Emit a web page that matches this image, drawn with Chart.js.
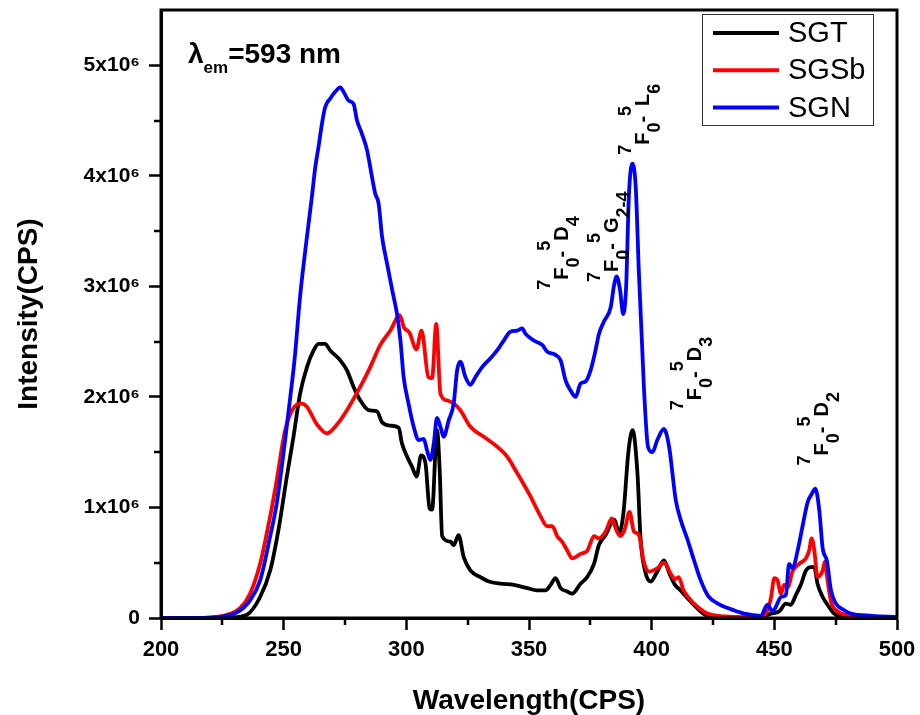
<!DOCTYPE html>
<html>
<head>
<meta charset="utf-8">
<script src="https://cdn.jsdelivr.net/npm/chart.js@4.4.1/dist/chart.umd.min.js"></script>
<style>
html,body{margin:0;padding:0;background:#ffffff;}
#wrap{width:920px;height:715px;position:relative;}
</style>
</head>
<body>
<div id="wrap"><canvas id="c" width="920" height="715"></canvas></div>
<script>
// ---------------- data (intensity in units of 10^6 CPS) ----------------
const UNIT = 1e6;
const seriesNames = ['SGT', 'SGSb', 'SGN'];
const seriesColors = ['#000000', '#ff0000', '#0000ff'];

const sgtWl = [200, 220, 228, 235, 240.4, 244.5, 247.9, 251.3, 254, 256.7,
  259.5, 262.2, 264.2, 266.9, 269, 273.1, 275.8, 278.5, 281.2, 284.6,
  288, 290.1, 293.5, 296.9, 298.2, 300.3, 302.3, 304.2, 306, 307.8,
  309.5, 310.5, 312.5, 313.6, 314.6, 318, 319.3, 321.3, 323.4, 326.1,
  330.2, 333.6, 338.4, 343.8, 349.3, 353.3, 356.7, 358.8, 360.8, 362.9,
  365.6, 367.6, 371, 373.7, 376.5, 378.5, 381.2, 384.8, 386.7, 388.5,
  390.5, 392.2, 394.2, 395.5, 397.6, 399.6, 402.3, 405, 407.3, 409.5,
  411.8, 414.6, 418, 421, 425, 435, 445, 448.6, 452, 454.7,
  456.7, 458.8, 460.8, 462.9, 465, 466.3, 467.6, 469.7, 471.7, 474.4,
  478, 490, 500];
const sgtVal = [0, 0, 0.005, 0.03, 0.19, 0.43, 0.80, 1.28, 1.64, 2.03,
  2.27, 2.42, 2.48, 2.48, 2.42, 2.33, 2.24, 2.09, 1.97, 1.88,
  1.87, 1.77, 1.74, 1.72, 1.58, 1.46, 1.37, 1.28, 1.47, 1.40,
  0.99, 0.98, 1.70, 1.34, 0.74, 0.69, 0.66, 0.75, 0.55, 0.43,
  0.37, 0.33, 0.31, 0.30, 0.27, 0.25, 0.25, 0.30, 0.36, 0.27,
  0.24, 0.22, 0.31, 0.37, 0.49, 0.66, 0.75, 0.89, 0.77, 0.95,
  1.50, 1.70, 1.31, 0.71, 0.40, 0.33, 0.42, 0.52, 0.40, 0.30,
  0.25, 0.18, 0.10, 0.04, 0.01, 0.005, 0.01, 0.04, 0.06, 0.13,
  0.12, 0.21, 0.30, 0.43, 0.46, 0.46, 0.31, 0.19, 0.12, 0.04,
  0.01, 0.005, 0];

const sgsbWl = [200, 215, 220, 225.4, 232.2, 236.3, 240.4, 244.5, 247.2, 250.6,
  254, 257.4, 259.5, 263.6, 267.6, 271.7, 275.8, 281.2, 285.3, 289.4,
  293.5, 297.3, 299, 301.3, 304.1, 306.2, 309, 310.5, 312.2, 313.9,
  316.5, 319.3, 322, 326.1, 331.6, 337, 341.1, 345.2, 350.6, 354.7,
  357.4, 359.5, 361.5, 363.5, 365.6, 367.6, 371, 373.8, 376.5, 378.5,
  381.2, 383.8, 385.5, 387.2, 389, 391, 392.8, 394.6, 396.9, 398.9,
  402.3, 405, 407.8, 409.5, 411, 413, 417.3, 422.7, 430, 440,
  445, 447.2, 448.6, 450, 451.3, 452.7, 454, 455.5, 457.4, 460.1,
  462.9, 464.2, 465.2, 466.3, 467.6, 469.7, 470.6, 471.7, 473.1, 475.8,
  482, 490, 500];
const sgsbVal = [0, 0, 0.005, 0.02, 0.09, 0.22, 0.49, 0.92, 1.25, 1.70,
  1.90, 1.94, 1.91, 1.75, 1.67, 1.75, 1.88, 2.09, 2.27, 2.47,
  2.60, 2.74, 2.63, 2.58, 2.43, 2.60, 2.18, 2.17, 2.66, 2.03,
  1.97, 1.94, 1.88, 1.73, 1.64, 1.55, 1.46, 1.31, 1.10, 0.92,
  0.83, 0.83, 0.74, 0.69, 0.61, 0.54, 0.58, 0.61, 0.74, 0.72,
  0.78, 0.90, 0.80, 0.74, 0.80, 0.96, 0.78, 0.76, 0.50, 0.42,
  0.45, 0.50, 0.40, 0.35, 0.37, 0.25, 0.13, 0.04, 0.015, 0.005,
  0.005, 0.07, 0.18, 0.36, 0.34, 0.22, 0.30, 0.28, 0.42, 0.49,
  0.54, 0.61, 0.72, 0.61, 0.37, 0.43, 0.51, 0.34, 0.15, 0.06,
  0.02, 0.01, 0];

const sgnWl = [200, 218, 224, 230.9, 236.3, 240.4, 244.5, 247.2, 250.6, 252.7,
  254.5, 256.7, 259.5, 261.5, 262.9, 264.2, 265.6, 266.9, 269, 271,
  273.1, 274.4, 276.5, 278.5, 279.9, 281.9, 284, 286, 287.3, 288.7,
  290.1, 292.1, 294.2, 296.2, 297.6, 298.9, 300.9, 303, 305, 307.1,
  308.4, 309.8, 311.2, 312.5, 313.9, 315.2, 317.3, 319.3, 320.7, 322,
  324.1, 326.1, 328.2, 330.9, 334.3, 337, 339.7, 342.4, 345.2, 347.2,
  348.6, 352, 355.4, 357.4, 360.8, 362.9, 364.9, 366.9, 369, 371,
  373.1, 375.1, 377.1, 378.5, 380.5, 383.3, 384.6, 385.7, 387.1, 388.4,
  389.6, 390.7, 392.1, 393.5, 394.8, 396.9, 398.5, 400.3, 402.3, 405,
  407.1, 409.8, 411.8, 414.6, 417.3, 420, 423, 427, 431, 437.7,
  444.5, 447.2, 449.3, 450.6, 452.7, 454.7, 456, 457.4, 459.5, 461.5,
  463.6, 465.2, 466.7, 468.3, 469.7, 471.4, 473.1, 475.1, 478.5, 481.2,
  490, 500];
const sgnVal = [0, 0, 0.01, 0.05, 0.16, 0.34, 0.74, 1.04, 1.61, 2.00,
  2.35, 2.91, 3.45, 3.81, 4.08, 4.26, 4.47, 4.62, 4.70, 4.76,
  4.80, 4.76, 4.68, 4.65, 4.50, 4.38, 4.23, 3.99, 3.84, 3.75,
  3.45, 3.21, 2.97, 2.75, 2.51, 2.18, 1.94, 1.73, 1.61, 1.62,
  1.52, 1.43, 1.58, 1.81, 1.73, 1.64, 1.79, 1.94, 2.24, 2.32,
  2.18, 2.11, 2.18, 2.27, 2.35, 2.42, 2.51, 2.59, 2.60, 2.62,
  2.57, 2.51, 2.47, 2.41, 2.38, 2.33, 2.15, 2.06, 2.00, 2.12,
  2.14, 2.24, 2.42, 2.57, 2.68, 2.81, 3.00, 3.09, 2.97, 2.75,
  3.00, 3.81, 4.11, 3.90, 3.12, 2.06, 1.55, 1.50, 1.61, 1.71,
  1.55, 1.07, 0.89, 0.71, 0.52, 0.34, 0.20, 0.13, 0.09, 0.04,
  0.02, 0.12, 0.06, 0.10, 0.19, 0.21, 0.49, 0.45, 0.61, 0.83,
  1.05, 1.12, 1.17, 0.98, 0.63, 0.52, 0.25, 0.13, 0.07, 0.04,
  0.02, 0.01];

// ticks
const xTicks = [200, 250, 300, 350, 400, 450, 500];
const xMinorTicks = [225, 275, 325, 375, 425, 475];
const yTicks = [0, 1, 2, 3, 4, 5];
const yTickLabels = ['0', '1x10\u2076', '2x10\u2076', '3x10\u2076', '4x10\u2076', '5x10\u2076'];
const yMinorTicks = [0.5, 1.5, 2.5, 3.5, 4.5];

// transition labels and their anchors [wavelength, intensity(10^6)]
const transitionText = [
  [['7','sup'],['F','main'],['0','sub'],['-','main'],['5','sup'],['D','main'],['4','sub']],
  [['7','sup'],['F','main'],['0','sub'],['-','main'],['5','sup'],['G','main'],['2-4','sub']],
  [['7','sup'],['F','main'],['0','sub'],['-','main'],['5','sup'],['L','main'],['6','sub']],
  [['7','sup'],['F','main'],['0','sub'],['-','main'],['5','sup'],['D','main'],['3','sub']],
  [['7','sup'],['F','main'],['0','sub'],['-','main'],['5','sup'],['D','main'],['2','sub']]
];
const transitionWl = [366.1, 386.1, 398.8, 420.0, 471.8];
const transitionVal = [2.97, 3.04, 4.19, 1.88, 1.38];

// ---------------- chart ----------------
const FONT = '"Liberation Sans", Arial, Helvetica, sans-serif';

function toPoints(wl, val) {
  const n = Math.min(wl.length, val.length);
  const out = [];
  for (let i = 0; i < n; i++) out.push({x: wl[i], y: val[i] * UNIT});
  return out;
}

const seriesData = [toPoints(sgtWl, sgtVal), toPoints(sgsbWl, sgsbVal), toPoints(sgnWl, sgnVal)];

function drawRich(ctx, parts, x, y, main, small) {
  ctx.save();
  ctx.translate(x, y);
  ctx.rotate(-Math.PI / 2);
  ctx.textAlign = 'left';
  ctx.textBaseline = 'alphabetic';
  ctx.fillStyle = '#000';
  let cx = 0;
  for (const [t, kind] of parts) {
    const size = kind === 'main' ? main : small;
    ctx.font = 'bold ' + size + 'px ' + FONT;
    const dy = kind === 'sup' ? -main * 0.9 : (kind === 'sub' ? main * 0.55 : 0);
    ctx.fillText(t, cx, dy);
    cx += ctx.measureText(t).width;
  }
  ctx.restore();
}

const decorPlugin = {
  id: 'decor',
  afterDraw(chart) {
    const ctx = chart.ctx;
    const a = chart.chartArea;
    const xs = chart.scales.x, ys = chart.scales.y;
    ctx.save();
    // frame
    ctx.strokeStyle = '#000';
    ctx.lineWidth = 3;
    ctx.strokeRect(a.left, a.top, a.right - a.left, a.bottom - a.top);
    // minor ticks
    ctx.lineWidth = 2.5;
    ctx.beginPath();
    for (const v of xMinorTicks) {
      const px = Math.round(xs.getPixelForValue(v));
      ctx.moveTo(px, a.bottom);
      ctx.lineTo(px, a.bottom + 7);
    }
    for (const v of yMinorTicks) {
      const py = Math.round(ys.getPixelForValue(v * UNIT));
      ctx.moveTo(a.left, py);
      ctx.lineTo(a.left - 7, py);
    }
    ctx.stroke();

    // transition labels
    for (let i = 0; i < transitionText.length; i++) {
      const px = xs.getPixelForValue(transitionWl[i]);
      const py = ys.getPixelForValue(transitionVal[i] * UNIT);
      drawRich(ctx, transitionText[i], px, py, 20, 18);
    }

    // lambda_em label
    ctx.fillStyle = '#000';
    ctx.textAlign = 'left';
    ctx.textBaseline = 'alphabetic';
    let lx = a.left + 27, ly = a.top + 53;
    ctx.font = 'bold 28px ' + FONT;
    ctx.fillText('\u03bb', lx, ly);
    lx += ctx.measureText('\u03bb').width;
    ctx.font = 'bold 17px ' + FONT;
    ctx.fillText('em', lx, ly + 10);
    lx += ctx.measureText('em').width;
    ctx.font = 'bold 28px ' + FONT;
    ctx.fillText('=593 nm', lx, ly);

    // legend
    const bx = a.right - 195, by = a.top + 4, bw = 171, bh = 111;
    ctx.lineWidth = 1;
    ctx.strokeStyle = '#333';
    ctx.strokeRect(bx + 0.5, by + 0.5, bw, bh);
    ctx.font = '29px ' + FONT;
    ctx.textBaseline = 'middle';
    chart.data.datasets.forEach((ds, i) => {
      const ry = by + 19 + i * 37.3;
      ctx.strokeStyle = ds.borderColor;
      ctx.lineWidth = 4;
      ctx.beginPath();
      ctx.moveTo(bx + 11, ry);
      ctx.lineTo(bx + 77, ry);
      ctx.stroke();
      ctx.fillStyle = '#000';
      ctx.fillText(ds.label, bx + 86, ry + 1);
    });
    ctx.restore();
  }
};

const datasets = seriesNames.map((name, i) => ({
  label: name,
  data: seriesData[i],
  borderColor: seriesColors[i],
  backgroundColor: seriesColors[i],
  borderWidth: 3.8,
  pointRadius: 0,
  fill: false,
  cubicInterpolationMode: 'monotone',
  order: 3 - i
}));

new Chart(document.getElementById('c'), {
  type: 'line',
  data: { datasets },
  plugins: [decorPlugin],
  options: {
    responsive: false,
    animation: false,
    devicePixelRatio: 1,
    layout: { padding: { left: 0, right: 23, top: 10, bottom: 0 } },
    plugins: { legend: { display: false }, tooltip: { enabled: false }, title: { display: false } },
    scales: {
      x: {
        type: 'linear', min: 200, max: 500,
        afterBuildTicks: s => { s.ticks = xTicks.map(v => ({ value: v })); },
        afterFit: s => { s.height = 97; s.paddingLeft = 0; s.paddingRight = 0; },
        ticks: { color: '#000', font: { family: FONT, size: 22, weight: 'bold' }, padding: 7, maxRotation: 0, autoSkip: false,
                 callback: v => String(v) },
        grid: { drawOnChartArea: false, drawTicks: true, tickLength: 12, tickWidth: 2.5, tickColor: '#000' },
        border: { display: true, color: '#000', width: 3 },
        title: { display: true, text: 'Wavelength(CPS)', color: '#000',
                 font: { family: FONT, size: 28, weight: 'bold', lineHeight: 1 }, padding: { top: 8, bottom: 0 } }
      },
      y: {
        type: 'linear', min: 0, max: 5.5 * UNIT,
        afterBuildTicks: s => { s.ticks = yTicks.map(v => ({ value: v * UNIT })); },
        afterFit: s => { s.width = 161; s.paddingTop = 0; s.paddingBottom = 0; },
        ticks: { color: '#000', font: { family: FONT, size: 21, weight: 'bold' }, padding: 9, autoSkip: false,
                 callback: (v) => { const k = yTicks.indexOf(Math.round(v / UNIT * 10) / 10); return k >= 0 ? yTickLabels[k] : ''; } },
        grid: { drawOnChartArea: false, drawTicks: true, tickLength: 12, tickWidth: 2.5, tickColor: '#000' },
        border: { display: true, color: '#000', width: 3 },
        title: { display: true, text: 'Intensity(CPS)', color: '#000',
                 font: { family: FONT, size: 28, weight: 'bold', lineHeight: 1 }, padding: { top: 15, bottom: 0 } }
      }
    }
  }
});
</script>
</body>
</html>
